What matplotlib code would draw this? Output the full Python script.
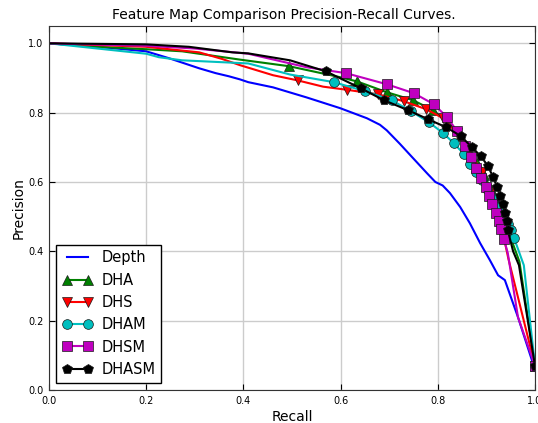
import matplotlib
matplotlib.use("Agg")
import matplotlib.pyplot as plt
import numpy as np

# curve points (recall, precision) and marker points per method
depth_r = [0.0, 0.1, 0.2, 0.247, 0.309, 0.343, 0.37, 0.393, 0.41, 0.461, 0.53, 0.599, 0.654,
           0.681, 0.695, 0.722, 0.745, 0.778, 0.795, 0.81, 0.825, 0.846, 0.866, 0.887, 0.907,
           0.924, 0.938, 0.965, 0.995]
depth_p = [1.0, 0.99, 0.977, 0.957, 0.928, 0.914, 0.905, 0.896, 0.888, 0.873, 0.844, 0.813, 0.784,
           0.765, 0.749, 0.71, 0.675, 0.625, 0.6, 0.59, 0.568, 0.528, 0.481, 0.424, 0.375,
           0.331, 0.317, 0.21, 0.08]

dha_r = [0.0, 0.1, 0.2, 0.274, 0.393, 0.6, 0.955, 0.968]
dha_p = [1.0, 0.99, 0.983, 0.977, 0.953, 0.902, 0.42, 0.37]
dha_mk_r = [0.494, 0.634, 0.695, 0.749, 0.79, 0.82, 0.845, 0.865, 0.88, 0.895, 0.91, 0.92, 0.93, 0.94, 1.0]
dha_mk_p = [0.934, 0.89, 0.859, 0.836, 0.807, 0.772, 0.732, 0.69, 0.655, 0.62, 0.58, 0.55, 0.51, 0.47, 0.07]

dhs_r = [0.0, 0.2, 0.309, 0.356, 0.393, 0.461, 0.564, 0.945]
dhs_p = [1.0, 0.99, 0.974, 0.955, 0.937, 0.908, 0.875, 0.38]
dhs_mk_r = [0.512, 0.613, 0.677, 0.73, 0.776, 0.811, 0.84, 0.865, 0.89, 0.91, 0.925, 0.936, 1.0]
dhs_mk_p = [0.893, 0.866, 0.853, 0.833, 0.81, 0.784, 0.74, 0.69, 0.63, 0.57, 0.51, 0.44, 0.07]

dham_r = [0.0, 0.1, 0.2, 0.226, 0.274, 0.41, 0.496, 0.977]
dham_p = [1.0, 0.985, 0.97, 0.96, 0.951, 0.942, 0.91, 0.36]
dham_mk_r = [0.586, 0.65, 0.705, 0.745, 0.782, 0.811, 0.833, 0.854, 0.866, 0.878, 0.89, 0.902,
             0.915, 0.925, 0.935, 0.944, 0.95, 0.957, 1.0]
dham_mk_p = [0.888, 0.862, 0.836, 0.804, 0.772, 0.741, 0.712, 0.68, 0.651, 0.63, 0.605, 0.58,
             0.555, 0.53, 0.505, 0.48, 0.462, 0.438, 0.07]

dhsm_r = [0.0, 0.2, 0.3, 0.41, 0.53, 0.944, 0.965]
dhsm_p = [1.0, 0.993, 0.985, 0.97, 0.931, 0.395, 0.21]
dhsm_mk_r = [0.611, 0.695, 0.751, 0.792, 0.819, 0.84, 0.856, 0.868, 0.879, 0.889, 0.899, 0.905,
             0.912, 0.92, 0.926, 0.93, 0.936, 1.0]
dhsm_mk_p = [0.914, 0.882, 0.856, 0.824, 0.787, 0.746, 0.703, 0.671, 0.64, 0.611, 0.585, 0.559,
             0.536, 0.51, 0.487, 0.464, 0.435, 0.07]

dhasm_r = [0.0, 0.2, 0.288, 0.377, 0.41, 0.496, 0.955, 0.967]
dhasm_p = [1.0, 0.997, 0.99, 0.974, 0.971, 0.951, 0.40, 0.36]
dhasm_mk_r = [0.57, 0.642, 0.689, 0.739, 0.78, 0.817, 0.848, 0.87, 0.889, 0.903, 0.914, 0.922,
              0.928, 0.934, 0.938, 0.942, 0.944, 1.0]
dhasm_mk_p = [0.919, 0.87, 0.836, 0.807, 0.781, 0.758, 0.732, 0.70, 0.674, 0.646, 0.614, 0.585,
              0.559, 0.536, 0.51, 0.487, 0.461, 0.07]


def merge(r, p, mr, mp):
    # join line points and marker points, sorted along recall
    allr = np.array(list(r) + list(mr))
    allp = np.array(list(p) + list(mp))
    flag = np.array([False] * len(r) + [True] * len(mr))
    order = np.argsort(allr, kind="stable")
    idx = [i for i, o in enumerate(order) if flag[o]]
    return allr[order], allp[order], idx


fig = plt.figure(figsize=(5.38, 4.23), dpi=100)
ax = fig.add_axes([49 / 538, 33 / 423, 486 / 538, 364 / 423])

ax.plot(depth_r, depth_p, color="b", lw=1.5, label="Depth")

series = [
    (dha_r, dha_p, dha_mk_r, dha_mk_p, "g", "^", "DHA"),
    (dhs_r, dhs_p, dhs_mk_r, dhs_mk_p, "r", "v", "DHS"),
    (dham_r, dham_p, dham_mk_r, dham_mk_p, "c", "o", "DHAM"),
    (dhsm_r, dhsm_p, dhsm_mk_r, dhsm_mk_p, "m", "s", "DHSM"),
    (dhasm_r, dhasm_p, dhasm_mk_r, dhasm_mk_p, "k", "p", "DHASM"),
]
cols = {"g": (0, 0.5, 0), "r": (1, 0, 0), "c": (0, 0.75, 0.75), "m": (0.75, 0, 0.75), "k": (0, 0, 0)}
for r, p, mr, mp, c, mk, lab in series:
    xr, yp, idx = merge(r, p, mr, mp)
    ax.plot(xr, yp, color=cols[c], lw=1.5, marker=mk, markevery=idx, ms=7,
            mec=(0.1, 0.1, 0.1), mew=0.5, label=lab)

ax.set_xlim(0, 1.0)
ax.set_ylim(0, 1.05)
ax.set_xticks(np.arange(0, 1.01, 0.2))
ax.set_yticks(np.arange(0, 1.01, 0.2))
ax.tick_params(direction="in", labelsize=7, top=True, right=True, length=4, pad=4)
ax.grid(True, color="#cccccc", lw=1)
ax.set_axisbelow(True)
for s in ax.spines.values():
    s.set_color("#333333")

ax.set_title("Feature Map Comparison Precision-Recall Curves.", fontsize=10, pad=5, x=0.483)
ax.set_xlabel("Recall", fontsize=10, labelpad=3)
ax.set_ylabel("Precision", fontsize=10, labelpad=2)

leg = ax.legend(loc="lower left", numpoints=2, fontsize=10.5, fancybox=False,
                handlelength=2.1, handletextpad=0.6, labelspacing=0.5,
                borderaxespad=0.5)
leg.get_frame().set_edgecolor("k")
leg.get_frame().set_alpha(1)

plt.savefig("out.png", dpi=100)
